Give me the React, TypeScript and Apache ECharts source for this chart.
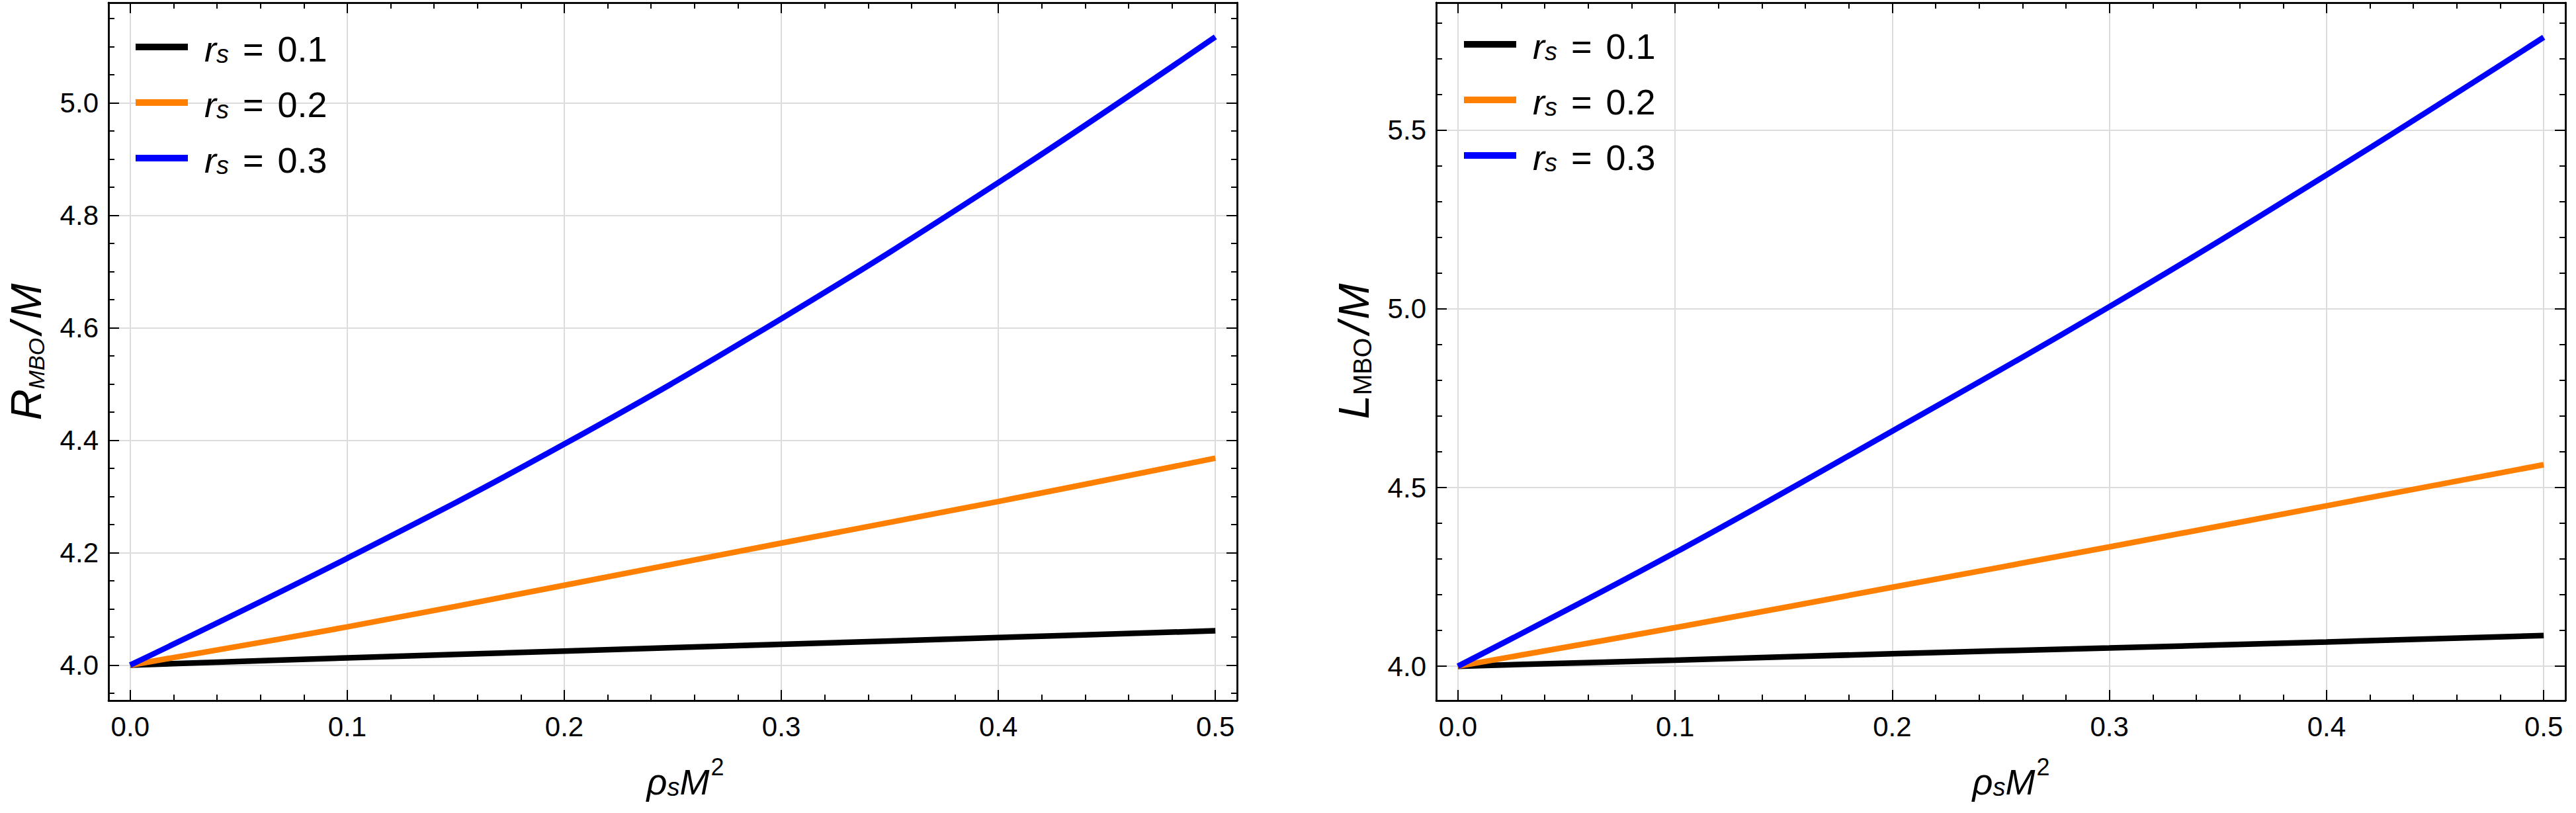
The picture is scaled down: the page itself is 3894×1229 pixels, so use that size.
import React, { useEffect, useRef } from "react";
import * as echarts from "echarts";

// ---- data ----
const RHO = [0, 0.1, 0.2, 0.3, 0.4, 0.5];
const R_RS01 = [4.0, 4.013, 4.025, 4.037, 4.049, 4.061];
const R_RS02 = [4.0, 4.068, 4.142, 4.217, 4.291, 4.368];
const R_RS03 = [4.0, 4.19, 4.393, 4.616, 4.858, 5.117];
const L_RS01 = [4.0, 4.017, 4.035, 4.051, 4.068, 4.086];
const L_RS02 = [4.0, 4.108, 4.221, 4.334, 4.449, 4.564];
const L_RS03 = [4.0, 4.318, 4.658, 5.006, 5.375, 5.76];
const RS_NAMES = ["0.1", "0.2", "0.3"];
const COLORS = ["#000000", "#FF8000", "#0000FF"];

// ---- ticks ----
const X_MAJOR = [0, 0.1, 0.2, 0.3, 0.4, 0.5];
const Y_LEFT_MAJOR = [4.0, 4.2, 4.4, 4.6, 4.8, 5.0];
const Y_RIGHT_MAJOR = [4.0, 4.5, 5.0, 5.5];

function steps(a: number, b: number, s: number): number[] {
  const out: number[] = [];
  const n = Math.round((b - a) / s);
  for (let i = 0; i <= n; i++) out.push(Math.round((a + i * s) * 10000) / 10000);
  return out;
}
const X_MINOR = steps(0, 0.5, 0.02);
const Y_LEFT_MINOR = steps(3.95, 5.15, 0.05);
const Y_RIGHT_MINOR = steps(4.0, 5.8, 0.1);

const FONT = '"Liberation Sans", Arial, Helvetica, sans-serif';
const TICK_FONT = 42;

const X_MIN = -0.01;
const X_MAX = 0.51;

function makeXAxes(grid: number) {
  const base: any = { type: "value", gridIndex: grid, min: X_MIN, max: X_MAX };
  const line = { show: true, onZero: false, lineStyle: { color: "#000", width: 2.5 } };
  const tick = (len: number, vals: number[]) => ({
    show: true, inside: true, length: len, customValues: vals,
    lineStyle: { color: "#000", width: 2 },
  });
  return [
    {
      ...base, position: "bottom", axisLine: line, axisTick: tick(16, X_MAJOR),
      axisLabel: {
        show: true, customValues: X_MAJOR, margin: 18, fontSize: TICK_FONT, fontFamily: FONT, color: "#000",
        formatter: (v: number) => v.toFixed(1),
      },
      splitLine: { show: true, lineStyle: { color: "#dcdcdc", width: 2 } },
    },
    { ...base, position: "bottom", axisLine: line, axisTick: tick(9, X_MINOR), axisLabel: { show: false }, splitLine: { show: false } },
    { ...base, position: "top", axisLine: line, axisTick: tick(16, X_MAJOR), axisLabel: { show: false }, splitLine: { show: false } },
    { ...base, position: "top", axisLine: line, axisTick: tick(9, X_MINOR), axisLabel: { show: false }, splitLine: { show: false } },
  ];
}

function makeYAxes(grid: number, min: number, max: number, major: number[], minor: number[]) {
  const base: any = { type: "value", gridIndex: grid, min, max };
  const line = { show: true, onZero: false, lineStyle: { color: "#000", width: 2.5 } };
  const tick = (len: number, vals: number[]) => ({
    show: true, inside: true, length: len, customValues: vals,
    lineStyle: { color: "#000", width: 2 },
  });
  return [
    {
      ...base, position: "left", axisLine: line, axisTick: tick(16, major),
      axisLabel: {
        show: true, customValues: major, margin: 15, fontSize: TICK_FONT, fontFamily: FONT, color: "#000",
        formatter: (v: number) => v.toFixed(1),
      },
      splitLine: { show: true, lineStyle: { color: "#dcdcdc", width: 2 } },
    },
    { ...base, position: "left", axisLine: line, axisTick: tick(9, minor), axisLabel: { show: false }, splitLine: { show: false } },
    { ...base, position: "right", axisLine: line, axisTick: tick(16, major), axisLabel: { show: false }, splitLine: { show: false } },
    { ...base, position: "right", axisLine: line, axisTick: tick(9, minor), axisLabel: { show: false }, splitLine: { show: false } },
  ];
}

function makeSeries(values: number[][], axisIndex: number) {
  return values.map((vals, i) => ({
    type: "line",
    name: RS_NAMES[i],
    xAxisIndex: axisIndex,
    yAxisIndex: axisIndex,
    data: RHO.map((x, j) => [x, vals[j]]),
    showSymbol: false,
    symbol: "none",
    smooth: 0.4,
    color: COLORS[i],
    itemStyle: { color: COLORS[i] },
    lineStyle: { color: COLORS[i], width: 8.5 },
    z: 2 + i,
  }));
}

const legendRich = {
  r: { fontFamily: FONT, fontStyle: "italic", fontSize: 54, lineHeight: 60, verticalAlign: "bottom", color: "#000" },
  s: { fontFamily: FONT, fontStyle: "italic", fontSize: 38, lineHeight: 30, verticalAlign: "bottom", color: "#000" },
  e: { fontFamily: FONT, fontSize: 54, lineHeight: 60, verticalAlign: "bottom", color: "#000", padding: [0, 6, 0, 6] },
  t: { fontFamily: FONT, fontSize: 54, lineHeight: 60, verticalAlign: "bottom", color: "#000" },
};

function makeLegend(left: number, top: number) {
  return {
    data: RS_NAMES,
    orient: "vertical",
    left,
    top,
    padding: 0,
    itemWidth: 79,
    itemHeight: 10,
    itemGap: 30,
    icon: "rect",
    selectedMode: false,
    formatter: (name: string) => `{r|r}{s|s}{e| = }{t|${name}}`,
    textStyle: { fontFamily: FONT, fontSize: 54, color: "#000", padding: [0, 0, 0, 20], rich: legendRich },
  };
}

const xTitleRich = {
  i: { fontFamily: FONT, fontStyle: "italic", fontSize: 54, lineHeight: 54, verticalAlign: "bottom", fill: "#000", color: "#000" },
  sub: { fontFamily: FONT, fontStyle: "italic", fontSize: 38, lineHeight: 23, verticalAlign: "bottom", fill: "#000", color: "#000" },
  sup: { fontFamily: FONT, fontSize: 36, lineHeight: 36, verticalAlign: "bottom", padding: [0, 0, 32, 2], fill: "#000", color: "#000" },
};

function xTitle(cx: number) {
  return {
    type: "text",
    x: cx,
    y: 1182,
    style: {
      text: "{i|ρ}{sub|s}{i|M}{sup|2}",
      rich: xTitleRich,
      align: "center",
      verticalAlign: "middle",
      fill: "#000",
    },
  };
}

const yLeftRich = {
  i: { fontFamily: FONT, fontStyle: "italic", fontSize: 65, lineHeight: 65, verticalAlign: "bottom", fill: "#000" },
  sub: { fontFamily: FONT, fontStyle: "italic", fontSize: 34, lineHeight: 36, verticalAlign: "bottom", fill: "#000" },
  sl: { fontFamily: FONT, fontStyle: "italic", fontSize: 65, lineHeight: 65, verticalAlign: "bottom", fill: "#000", padding: [0, 4, 0, 6] },
};
const yRightRich = {
  i: { fontFamily: FONT, fontStyle: "italic", fontSize: 65, lineHeight: 65, verticalAlign: "bottom", fill: "#000" },
  sub: { fontFamily: FONT, fontSize: 38, lineHeight: 31, verticalAlign: "bottom", fill: "#000" },
  sl: { fontFamily: FONT, fontStyle: "italic", fontSize: 65, lineHeight: 65, verticalAlign: "bottom", fill: "#000", padding: [0, 4, 0, 6] },
};

function yTitle(cx: number, cy: number, text: string, rich: any) {
  return {
    type: "text",
    x: cx,
    y: cy,
    rotation: Math.PI / 2,
    style: {
      text,
      rich,
      align: "center",
      verticalAlign: "middle",
      fill: "#000",
    },
  };
}

export default function App() {
  const ref = useRef<HTMLDivElement>(null);
  useEffect(() => {
    if (!ref.current) return;
    const chart = echarts.init(ref.current, undefined, { renderer: "svg" });
    const option: any = {
      animation: false,
      backgroundColor: "#ffffff",
      grid: [
        { left: 164, top: 4, width: 1706, height: 1055, containLabel: false, outerBoundsMode: "none" },
        { left: 2171, top: 4, width: 1707, height: 1055, containLabel: false, outerBoundsMode: "none" },
      ],
      xAxis: [...makeXAxes(0), ...makeXAxes(1)],
      yAxis: [
        ...makeYAxes(0, 3.937, 5.178, Y_LEFT_MAJOR, Y_LEFT_MINOR),
        ...makeYAxes(1, 3.904, 5.857, Y_RIGHT_MAJOR, Y_RIGHT_MINOR),
      ],
      legend: [makeLegend(205, 47), makeLegend(2213, 43)],
      series: [
        ...makeSeries([R_RS01, R_RS02, R_RS03], 0),
        ...makeSeries([L_RS01, L_RS02, L_RS03], 4),
      ],
      graphic: [
        xTitle(1036),
        xTitle(3040),
        yTitle(39, 532, "{i|R}{sub|MBO}{sl|/}{i|M}", yLeftRich),
        yTitle(2046, 531, "{i|L}{sub|MBO}{sl|/}{i|M}", yRightRich),
      ],
    };
    chart.setOption(option);
    return () => chart.dispose();
  }, []);
  return (
    <div
      ref={ref}
      style={{ position: "absolute", left: 0, top: 0, width: 3894, height: 1229, background: "#fff" }}
    />
  );
}
